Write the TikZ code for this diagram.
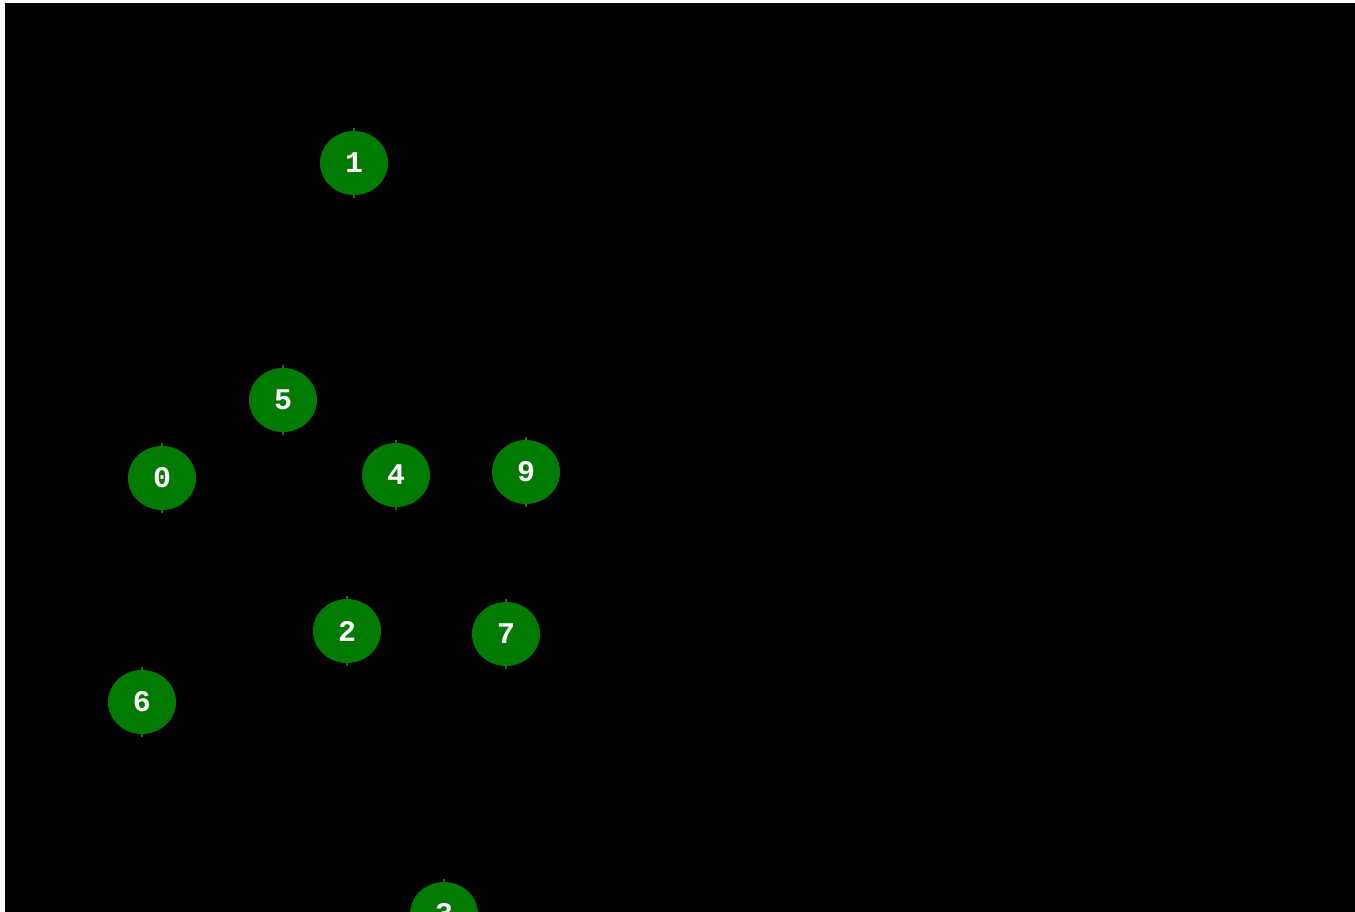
\documentclass[tikz,border=0pt]{standalone}
\usepackage{fontspec}
\usetikzlibrary{shapes.geometric}
\setmainfont{Liberation Mono}
\definecolor{nodegreen}{RGB}{0,122,0}
\begin{document}
\begin{tikzpicture}[x=1pt,y=-1pt,
  vtx/.style={ellipse,fill=nodegreen,minimum width=68pt,minimum height=64pt,inner sep=0pt,text=white,
    font=\fontsize{30}{30}\selectfont\bfseries},
  tick/.style={draw=nodegreen,line width=1.2pt}]
\useasboundingbox (0,0) rectangle (1355,912);
\fill[white] (0,0) rectangle (1355,912);
\fill[black] (5,3) rectangle (1355,912);
\begin{scope}
\clip (5,3) rectangle (1355,912);
\foreach \n/\x/\y in {1/354/163, 5/283/400, 0/162/478, 4/396/475, 9/526/472, 2/347/631, 7/506/634, 6/142/702, 3/444/914}{
  \node[vtx] (n\n) at (\x,\y) {\n};
  \draw[tick] (n\n.north) -- ++(0,-3);
  \draw[tick] (n\n.south) -- ++(0,3);
}
\end{scope}
\end{tikzpicture}
\end{document}
